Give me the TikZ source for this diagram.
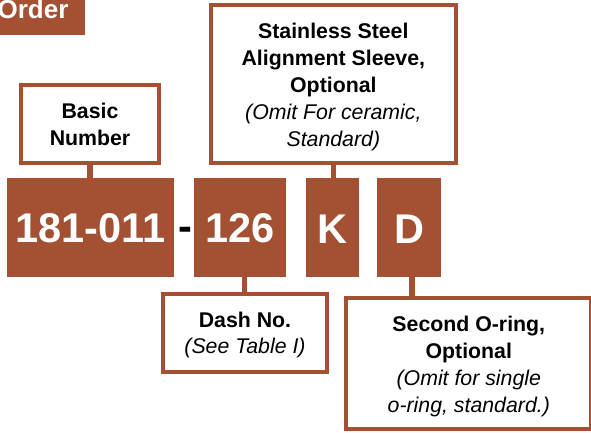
\documentclass[tikz,border=0pt]{standalone}
\usepackage{fontspec}
\setmainfont{Liberation Sans}
\definecolor{rust}{HTML}{A45033}
\newcommand{\firstline}[1]{\rule{0pt}{#1pt}}
\tikzset{
 redbox/.style={fill=rust,draw=none,inner sep=0pt,text=white,minimum height=99pt,font=\fontsize{41.5}{44}\selectfont\bfseries},
 whitebox/.style={draw=rust,line width=4pt,fill=white,inner sep=0pt,align=center,font=\fontsize{21.3}{27}\selectfont},
 conn/.style={draw=rust,line width=5.3pt},
}
\begin{document}
\begin{tikzpicture}[x=1pt,y=-1pt]
\useasboundingbox (0,0) rectangle (591,432);
\fill[white] (0,0) rectangle (591,432);
\clip (0,0) rectangle (591,432);
\fill[rust] (0,-2) rectangle (85,35);
\node[anchor=base,text=white,inner sep=0pt,font=\fontsize{26}{28}\selectfont\bfseries] (order) at (33,18.5) {Order};
\node[redbox,minimum width=167.3pt] (a) at (90.65,227.5) {\firstline{31}181-011};
\node[inner sep=0pt,font=\fontsize{41.5}{44}\selectfont\bfseries] (dash) at (185.5,234) {-};
\node[redbox,minimum width=92pt] (b) at (240.3,227.5) {\firstline{31}126};
\node[redbox,minimum width=53pt] (c) at (332.8,227.5) {\firstline{31}K};
\node[redbox,minimum width=64pt] (d) at (409,227.5) {\firstline{31}D};
\node[whitebox,minimum width=137.4pt,minimum height=78.3pt] (basic) at (90,123.85) {\firstline{16.5}\textbf{Basic}\\\textbf{Number}};
\node[whitebox,minimum width=245.3pt,minimum height=158.3pt] (sleeve) at (333.35,83.85) {\firstline{21.5}\textbf{Stainless Steel}\\\textbf{Alignment Sleeve,}\\\textbf{Optional}\\\textit{(Omit For ceramic,}\\\textit{Standard)}};
\node[whitebox,minimum width=164pt,minimum height=78pt] (dashno) at (245,333) {\firstline{19.5}\textbf{Dash No.}\\[-1.5pt]\textit{(See Table I)}};
\node[whitebox,minimum width=245pt,minimum height=131pt] (second) at (468.8,363.5) {\firstline{21.5}\textbf{Second O-ring,}\\\textbf{Optional}\\\textit{(Omit for single}\\\textit{o-ring, standard.)}};
\coordinate (bdrop) at (244.3,277);
\coordinate (ddrop) at (412,277);
\draw[conn] (basic.south) -- (basic.south |- a.north);
\draw[conn] (sleeve.south) -- (sleeve.south |- c.north);
\draw[conn] (bdrop) -- (bdrop |- dashno.north);
\draw[conn] (ddrop) -- (ddrop |- second.north);
\end{tikzpicture}
\end{document}
